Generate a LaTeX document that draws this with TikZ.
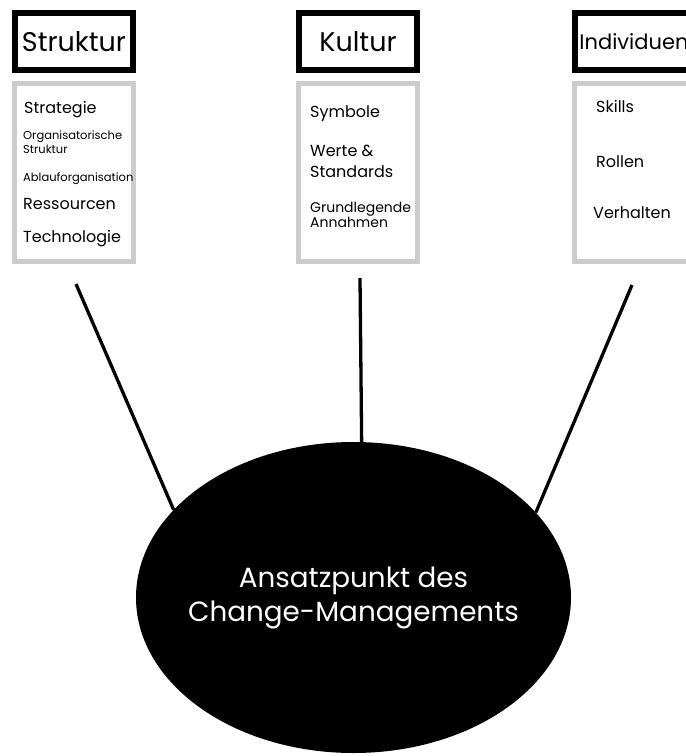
\documentclass[tikz,border=0pt]{standalone}
\usepackage{fontspec}
\setmainfont{Poppins}
\usetikzlibrary{positioning,shapes.geometric}

\begin{document}
\begin{tikzpicture}[x=1pt, y=-1pt,
  head/.style={draw, line width=6pt, minimum width=118pt, minimum height=57pt, inner sep=0pt, font=\fontsize{27}{30}\selectfont},
  list/.style={draw=black!20, line width=5pt, minimum width=119pt, minimum height=178pt},
  item/.style={anchor=base west, inner sep=0pt, align=left, font=\fontsize{16}{21}\selectfont},
  tiny/.style={item, font=\fontsize{11.5}{14}\selectfont},
  link/.style={line width=3.3pt},
  core/.style={ellipse, fill=black, minimum width=435pt, minimum height=311pt, inner sep=-20pt,
    text=white, align=center, font=\fontsize{27.8}{34}\selectfont}]
  \useasboundingbox (0,0) rectangle (686,756);
  \clip (0,0) rectangle (686,756);
  % the three fields
  \node[head] (struktur) at (74,41.5) {Struktur};
  \node[head] (kultur) at (358,41.5) {Kultur};
  \node[head, font=\fontsize{21}{24}\selectfont] (indiv) at (634,41.5) {Individuen};
  \node[list] (lstruktur) at (74,172.5) {};
  \node[list] (lkultur) at (358,172.5) {};
  \node[list] (lindiv) at (634,172.5) {};
  % what belongs to them
  \node[item] (strategie) at (24,113) {Strategie};
  \node[tiny] (orga) at (23,153) {Organisatorische\\Struktur};
  \node[tiny] (ablauf) at (23,181) {Ablauforganisation};
  \node[item] (ressourcen) at (23,209) {Ressourcen};
  \node[item] (technologie) at (23,242) {Technologie};
  \node[item] (symbole) at (310,117) {Symbole};
  \node[item] (werte) at (310,177) {Werte \&\\Standards};
  \node[item, font=\fontsize{14}{15}\selectfont] (annahmen) at (310,227) {Grundlegende\\Annahmen};
  \node[item] (skills) at (596,112) {Skills};
  \node[item] (rollen) at (596,167) {Rollen};
  \node[item] (verhalten) at (593,218) {Verhalten};
  % centre and its links
  \coordinate (tstruktur) at (76,284);
  \coordinate (tkultur) at (360,278);
  \coordinate (tindiv) at (632,285);
  \node[core] (ansatz) at (353.5,597.5) {Ansatzpunkt des\\Change-Managements};
  \draw[link] (tstruktur) -- (ansatz.154.8);
  \draw[link] (tkultur) -- (ansatz.87.6);
  \draw[link] (tindiv) -- (ansatz.25.7);
\end{tikzpicture}
\end{document}
